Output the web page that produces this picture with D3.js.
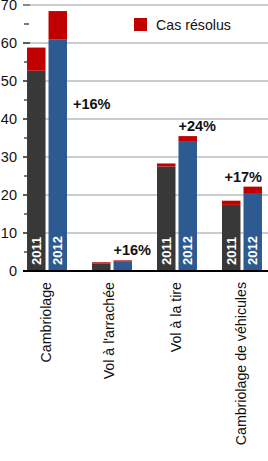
<html>
<head>
    <meta charset="UTF-8">
    <title>Cas résolus</title>
    <style>
        body { margin: 0; background: #fff; }
        text { font-family: "Liberation Sans", Arial, sans-serif; }
    </style>
</head>
<body>
<script src="https://d3js.org/d3.v7.min.js"></script>
<div id="svg_chart"></div>
<script>
    // Data
    const categories = ["Cambriolage", "Vol à l'arrachée", "Vol à la tire", "Cambriolage de véhicules"];
    const years = ["2011", "2012"];
    const total2011 = [58.8, 2.3, 28.3, 18.5];
    const total2012 = [68.4, 2.8, 35.5, 22.2];
    const solved2011 = [6.1, 0.3, 0.8, 1.1];
    const solved2012 = [7.4, 0.35, 1.5, 1.9];
    const changeLabels = ["+16%", "+16%", "+24%", "+17%"];
    const yTicks = [0, 10, 20, 30, 40, 50, 60, 70];
    const yMinorTicks = [5, 15, 25, 35, 45, 55, 65];

    const W = 268, H = 461;
    const colors = { "2011": "#383838", "2012": "#2d5a91", solved: "#c00000" };

    const svg = d3.select("#svg_chart")
        .append("svg")
        .attr("width", W)
        .attr("height", H);

    // scales
    let yScale = d3.scaleLinear()
        .domain([0, 70])
        .range([271, 5]);

    let xScale = d3.scaleBand()
        .domain(categories)
        .range([23, 266])
        .paddingInner(0.385)
        .paddingOuter(0.062);

    let xYear = d3.scaleBand()
        .domain(years)
        .range([0, xScale.bandwidth()])
        .paddingInner(0.14);

    // build rows for the bars
    let rows = [];
    categories.forEach(function(c, i) {
        rows.push({cat: c, year: "2011", total: total2011[i], solved: solved2011[i]});
        rows.push({cat: c, year: "2012", total: total2012[i], solved: solved2012[i]});
    });

    // gridlines
    svg.append("g")
        .selectAll("line")
        .data(yTicks.filter(d => d > 0))
        .enter()
        .append("line")
        .attr("x1", 23)
        .attr("x2", W)
        .attr("y1", d => yScale(d))
        .attr("y2", d => yScale(d))
        .attr("stroke", d => d == 70 ? "#cccccc" : "#999999")
        .attr("stroke-width", d => d == 70 ? 2 : 1);

    // major ticks
    svg.append("g")
        .selectAll("line")
        .data(yTicks.filter(d => d > 0))
        .enter()
        .append("line")
        .attr("x1", 23)
        .attr("x2", 30)
        .attr("y1", d => yScale(d))
        .attr("y2", d => yScale(d))
        .attr("stroke", d => d == 70 ? "#888" : "#111")
        .attr("stroke-width", d => d == 70 ? 2 : 1.2);

    // minor ticks
    svg.append("g")
        .selectAll("line")
        .data(yMinorTicks)
        .enter()
        .append("line")
        .attr("x1", 24)
        .attr("x2", 29)
        .attr("y1", d => yScale(d))
        .attr("y2", d => yScale(d))
        .attr("stroke", "#222")
        .attr("stroke-width", 1.2);

    // tick labels
    svg.append("g")
        .selectAll("text")
        .data(yTicks)
        .enter()
        .append("text")
        .attr("x", 17)
        .attr("y", d => yScale(d))
        .attr("dy", "0.36em")
        .attr("text-anchor", "end")
        .style("font-size", "14.5px")
        .style("fill", "#111")
        .text(d => d);

    // bars
    const bars = svg.append("g")
        .selectAll("g")
        .data(rows)
        .enter()
        .append("g")
        .attr("transform", d => "translate(" + (xScale(d.cat) + xYear(d.year)) + ",0)");

    bars.append("rect")
        .attr("x", 0)
        .attr("width", xYear.bandwidth())
        .attr("y", d => yScale(d.total - d.solved))
        .attr("height", d => yScale(0) - yScale(d.total - d.solved))
        .attr("fill", d => colors[d.year]);

    bars.append("rect")
        .attr("x", 0)
        .attr("width", xYear.bandwidth())
        .attr("y", d => yScale(d.total))
        .attr("height", d => yScale(d.total - d.solved) - yScale(d.total))
        .attr("fill", colors.solved);

    // year labels inside the tall bars
    bars.filter(d => d.total > 10)
        .append("text")
        .attr("transform", d => "translate(" + (xYear.bandwidth() / 2) + "," + (yScale(0) - 6) + ") rotate(-90)")
        .attr("dy", "0.36em")
        .style("font-size", "13px")
        .style("font-weight", "bold")
        .style("fill", "#fff")
        .text(d => d.year);

    // axis line at zero
    svg.append("line")
        .attr("x1", 23)
        .attr("x2", W)
        .attr("y1", yScale(0))
        .attr("y2", yScale(0))
        .attr("stroke", "#000")
        .attr("stroke-width", 2);

    // category labels
    svg.append("g")
        .selectAll("text")
        .data(categories)
        .enter()
        .append("text")
        .attr("transform", (d, i) => "translate(" + (xScale(d) + xScale.bandwidth() / 2 - (i == 1 ? 3 : 1)) + "," + 282 + ") rotate(-90)")
        .attr("dy", "0.36em")
        .attr("text-anchor", "end")
        .style("font-size", "14.2px")
        .style("fill", "#111")
        .text(d => d);

    // percentage labels
    svg.append("g")
        .selectAll("text")
        .data(categories)
        .enter()
        .append("text")
        .attr("x", function(d, i) {
            let x12 = xScale(d) + xYear("2012");
            if (i == 0) return x12 + xYear.bandwidth() + 6;
            if (i == 3) return x12 + xYear.bandwidth();
            return x12;
        })
        .attr("y", function(d, i) {
            if (i == 0) return yScale(total2012[i]) + 98;
            return yScale(total2012[i]) - 5;
        })
        .attr("text-anchor", (d, i) => i == 3 ? "end" : "start")
        .style("font-size", "14.5px")
        .style("font-weight", "bold")
        .style("fill", "#111")
        .text((d, i) => changeLabels[i]);

    // legend
    const legend = svg.append("g")
        .attr("transform", "translate(134,18)");
    legend.append("rect")
        .attr("width", 13)
        .attr("height", 13)
        .attr("fill", colors.solved);
    legend.append("text")
        .attr("x", 22)
        .attr("y", 6.5)
        .attr("dy", "0.36em")
        .style("font-size", "14.2px")
        .style("fill", "#111")
        .text("Cas résolus");
</script>
</body>
</html>
